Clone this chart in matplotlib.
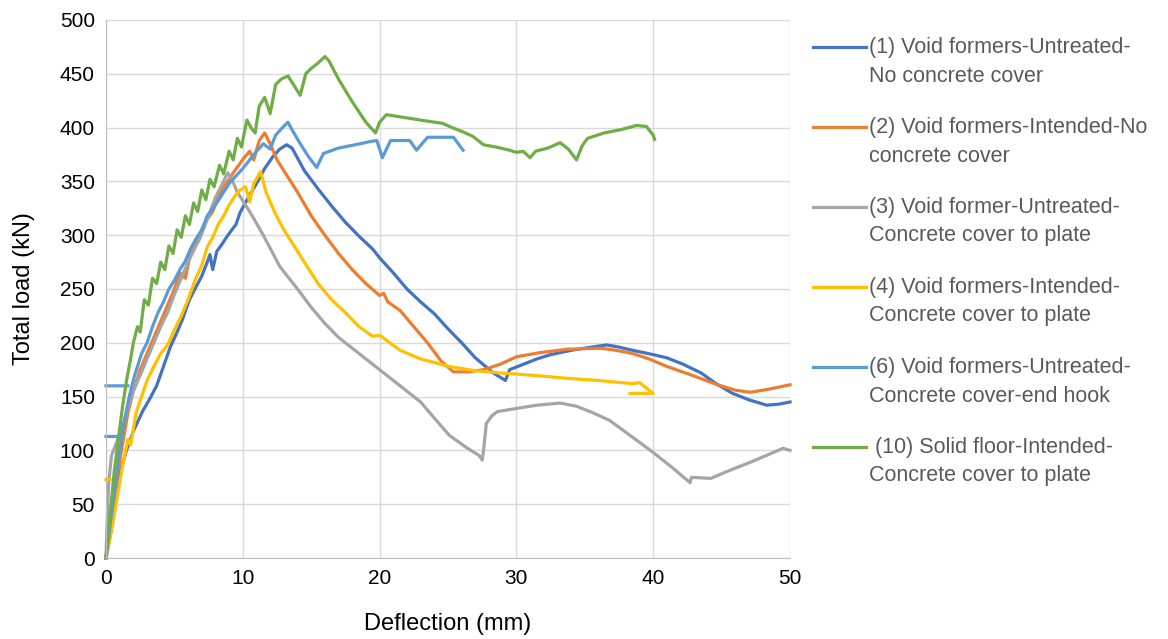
#!/usr/bin/env python3
import numpy as np
import matplotlib
matplotlib.use('Agg')
import matplotlib.pyplot as plt
from matplotlib.lines import Line2D

nan = np.nan

# (1) Void formers-Untreated-No concrete cover
x1 = [0, 0.5, 1.0, 1.5, 2.0, 2.7, 3.2, 3.7, 4.2, 4.7, 5.2, 5.6, 6.1, 6.5, 7.0, 7.4, 7.6, 7.8, 8.1, 8.5,
      8.8, 9.2, 9.5, 9.8, 10.4, 11.0, 11.6, 12.2, 12.7, 13.2, 13.6, 14.5, 15.5, 16.5, 17.5, 18.5, 19.5,
      20, 21, 22, 23, 24, 25, 26, 27, 28.3, 29.2, 29.5, 30.5, 31.5, 32.5, 34, 35.5, 36.6, 37.5, 38.5, 40,
      41, 42.2, 43.5, 44.6, 45.8, 47, 48.3, 49.2, 50]
y1 = [0, 35, 79, 100, 118, 137, 148, 160, 178, 196, 210, 222, 240, 250, 262, 275, 282, 268, 285, 292,
      298, 305, 310, 321, 335, 348, 362, 373, 380, 384, 381, 360, 343, 327, 312, 299, 287,
      279, 265, 250, 238, 227, 213, 200, 186, 172, 165, 175, 180, 185, 189, 193, 196, 198, 196, 193, 189,
      186, 180, 172, 162, 153, 147, 142, 143, 145]

# (2) Void formers-Intended-No concrete cover
x2 = [0, 0.4, 0.8, 1.2, 1.6, 2.0, 2.5, 3.0, 3.5, 4.0, 4.5, 5.0, 5.4, 5.8, 6.2, 6.6, 7.0, 7.4, 7.8, 8.2,
      8.6, 9.0, 9.3, 9.7, 10.1, 10.5, 10.8, 11.2, 11.6, 12.0, 12.5, 13, 14, 15, 16, 17, 18, 19, 20, 20.3,
      20.6, 21.5, 22.5, 23.5, 24.5, 25.4, 26.5, 27.6, 28.8, 30, 31.8, 33.7, 36.1, 37.3, 38.5, 39.7, 41,
      42.8, 44.7, 46, 47.1, 48.5, 50]
y2 = [0, 40, 75, 105, 135, 155, 175, 190, 205, 220, 235, 250, 265, 260, 285, 292, 305, 315, 322, 335,
      345, 352, 358, 365, 372, 378, 370, 388, 395, 385, 370, 360, 340, 318, 300, 283, 268, 255, 244, 246,
      238, 230, 215, 200, 183, 173, 173, 175, 180, 187, 191, 194, 195, 193, 190, 185, 178,
      170, 161, 156, 154, 157, 161]

# (3) Void former-Untreated-Concrete cover to plate
x3 = [0, 0.1, 0.2, 0.4, 0.7, 1.0, 1.3, 1.6, 2.0, 2.5, 3.0, 3.5, 4.0, 4.5, 5.0, 5.5, 6.0, 6.5, 6.9, 7.5,
      8.0, 8.4, 8.9, 9.2, 9.6, 10.5, 11.5, 12.7, 14, 15, 16, 17, 18, 19, 20, 21, 22, 23, 24, 25.1, 26.3,
      27.3, 27.5, 27.6, 27.8, 28.2, 28.6, 30, 31.5, 33.2, 34.4, 35.4, 36.8, 38.3, 39.8, 41.3, 42.7, 42.8,
      44.2, 45.7, 47.1, 48.4, 49.5, 50]
y3 = [0, 40, 70, 95, 105, 115, 125, 140, 155, 170, 185, 200, 215, 228, 245, 260, 275, 288, 298, 318,
      335, 345, 358, 352, 340, 322, 300, 271, 250, 233, 218, 205, 195, 185, 175, 165, 155, 145, 130, 114, 103,
      95, 91, 100, 125, 132, 136, 139, 142, 144, 141, 136, 128, 114, 100, 85, 70, 75,
      74, 82, 89, 96, 102, 100]

# (4) Void formers-Intended-Concrete cover to plate
x4 = [0, 0.3, nan, 0, 0.4, 0.8, 1.2, 1.6, 1.8, 2.2, 2.6, 3.0, 3.5, 4.0, 4.5, 5.0, 5.5, 6.0, 6.5, 7.0,
      7.4, 7.8, 8.2, 8.6, 9.0, 9.4, 9.8, 10.2, 10.5, 10.8, 11.3, 11.7, 12.3, 13, 13.5, 14.5, 15.5, 16.5,
      17.5, 18.5, 19.5, 20, 21.5, 23, 25.1, 27, 28.8, 31, 33.7, 36, 38.5, 39.0, 40, 38.3]
y4 = [73, 73, nan, 0, 25, 55, 85, 110, 105, 135, 150, 165, 178, 190, 198, 212, 225, 240, 258, 272,
      289, 298, 310, 318, 328, 336, 342, 345, 331, 348, 359, 340, 322, 305, 295, 275, 255, 240,
      228, 215, 206, 207, 193, 185, 178, 174, 172, 170, 167, 165, 162, 163, 153, 153]

# (6) Void formers-Untreated-Concrete cover-end hook
x6 = [0, 1.6, nan, 0, 1.0, nan, 0, 0.4, 0.8, 1.0, 1.3, 1.7, 2.1, 2.6, 3.0, 3.4, 3.8, 4.2, 4.6, 5.0, 5.4,
      5.8, 6.2, 6.6, 7.0, 7.4, 7.8, 8.2, 8.6, 9.0, 9.5, 10.0, 10.5, 11.0, 11.5, 12.0, 12.4, 12.9, 13.3,
      13.6, 14.2, 14.8, 15.4, 15.9, 17.0, 18.2, 19.3, 19.8, 20.2, 20.8, 22.2, 22.7, 23.5, 25.4, 26.1]
y6 = [160, 160, nan, 113, 113, nan, 0, 40, 80, 100, 125, 150, 170, 190, 200, 215, 228, 238, 250, 258, 268,
      276, 288, 297, 305, 318, 325, 332, 340, 348, 355, 362, 370, 378, 385, 380, 393, 400, 405,
      398, 385, 373, 363, 376, 381, 384, 387, 388, 372, 388, 388, 379, 391, 391, 379]

# (10) Solid floor-Intended-Concrete cover to plate
x10 = [0, 0.3, 0.6, 0.9, 1.2, 1.5, 1.8, 2.0, 2.3, 2.5, 2.8, 3.1, 3.4, 3.7, 4.0, 4.3, 4.6, 4.9, 5.2, 5.5,
       5.8, 6.1, 6.4, 6.7, 7.0, 7.3, 7.6, 7.9, 8.3, 8.6, 9.0, 9.3, 9.6, 9.9, 10.3, 10.6, 10.9, 11.2, 11.6,
       12.0, 12.4, 12.8, 13.3, 13.7, 14.2, 14.6, 15.0, 15.5, 16.0, 16.3, 17, 18, 19, 19.7, 20.0, 20.5,
       21.5, 22.5, 23.5, 24.6, 25.3, 26.1, 26.8, 27.6, 28.5, 29.5, 30.0, 30.5, 31.0, 31.4, 32.3, 33.2,
       33.8, 34.4, 34.8, 35.2, 36.4, 37.6, 38.8, 39.5, 40.0, 40.1]
y10 = [0, 40, 80, 110, 140, 165, 185, 200, 215, 210, 240, 235, 260, 255, 275, 268, 290, 283, 305, 298,
       318, 310, 330, 322, 342, 333, 352, 345, 365, 357, 378, 370, 390, 382, 407, 400, 395, 420, 428,
       413, 440, 445, 448, 440, 430, 450, 455, 460, 466, 462, 445, 424, 405, 395, 405, 412,
       410, 408, 406, 404, 400, 396, 392, 384, 382, 379, 377, 378, 372, 378, 381, 386,
       380, 370, 383, 390, 395, 398, 402, 401, 393, 389]

series = [
    (x1, y1, '#4472C4', '(1) Void formers-Untreated-', 'No concrete cover'),
    (x2, y2, '#ED7D31', '(2) Void formers-Intended-No', 'concrete cover'),
    (x3, y3, '#A5A5A5', '(3) Void former-Untreated-', 'Concrete cover to plate'),
    (x4, y4, '#FFC000', '(4) Void formers-Intended-', 'Concrete cover to plate'),
    (x6, y6, '#5B9BD5', '(6) Void formers-Untreated-', 'Concrete cover-end hook'),
    (x10, y10, '#70AD47', ' (10) Solid floor-Intended-', 'Concrete cover to plate'),
]


def main():
  plt.rcParams['font.family'] = ['Liberation Sans', 'DejaVu Sans']

  fig = plt.figure(figsize=(11.68, 6.39), dpi=100)
  ax = fig.add_axes([106/1168, 1 - 558/639, (790 - 106)/1168, (558 - 20)/639])

  for xs, ys, col, l1, l2 in series:
    ax.plot(xs, ys, color=col, lw=2.3, solid_joinstyle='round', clip_on=False)

  ax.set_xlim(0, 50)
  ax.set_ylim(0, 500)
  ax.set_xticks(range(0, 51, 10))
  ax.set_yticks(range(0, 501, 50))
  ax.grid(True, color='#D9D9D9', lw=1)
  ax.set_axisbelow(True)
  for s in ['top', 'right']:
    ax.spines[s].set_visible(False)
  for s in ['left', 'bottom']:
    ax.spines[s].set_color('#BFBFBF')
  ax.tick_params(length=0, labelsize=15, pad=8)
  ax.set_xlabel('Deflection (mm)', fontsize=17, labelpad=18)
  ax.set_ylabel('Total load (kN)', fontsize=17, labelpad=18)

  # legend, drawn by hand so the key sits on the first text line
  for i, (xs, ys, col, l1, l2) in enumerate(series):
    yc = 1 - (47 + 80*i)/639
    fig.add_artist(Line2D([813/1168, 866/1168], [yc, yc], color=col, lw=2.3,
                          transform=fig.transFigure))
    fig.text(869/1168, yc, l1, fontsize=15.5, color='#595959', va='center')
    fig.text(869/1168, yc - 29/639, l2, fontsize=15.5, color='#595959', va='center')

  fig.savefig('out.png', dpi=100)


if __name__ == '__main__':
  main()
